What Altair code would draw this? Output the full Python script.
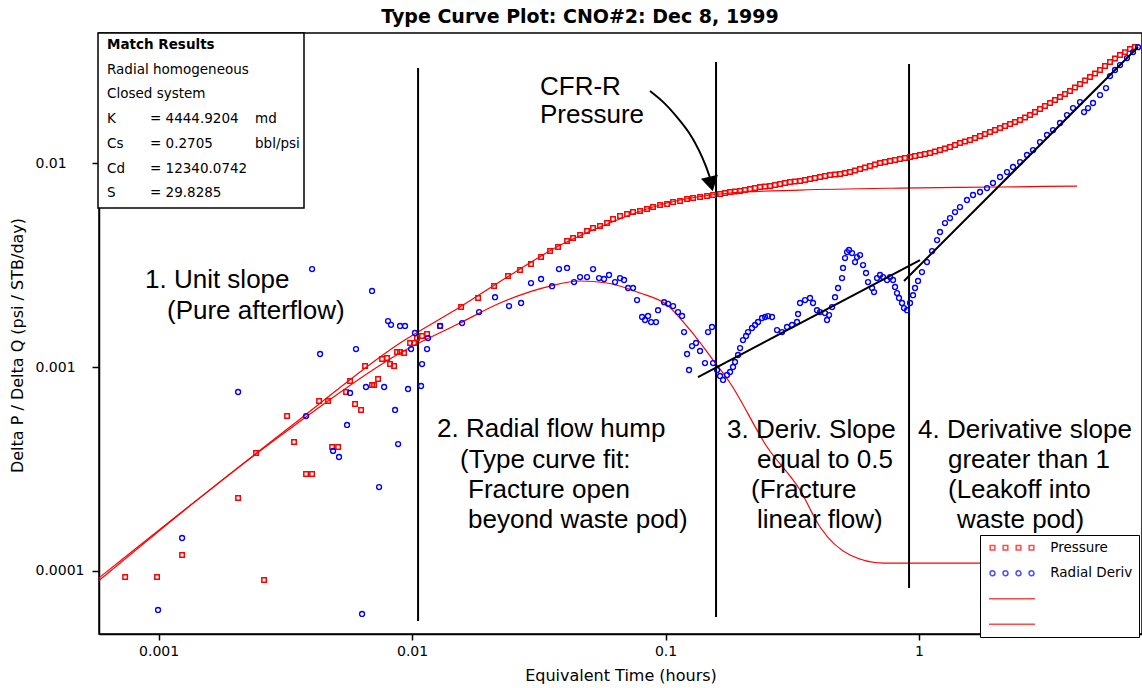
import altair as alt
import pandas as pd

# ---------------- data ----------------
# Measured pressure (red squares): (equivalent time h, delta P / delta Q)
pressure = [
    (7.38e-4, 9.35e-5), (9.86e-4, 9.35e-5), (1.238e-3, 1.198e-4), (2.059e-3, 2.279e-4),
    (2.424e-3, 3.79e-4), (2.607e-3, 9.03e-5), (3.213e-3, 5.75e-4), (3.423e-3, 4.29e-4),
    (3.817e-3, 2.99e-4), (4.032e-3, 2.99e-4), (4.297e-3, 6.81e-4), (4.663e-3, 6.81e-4),
    (4.836e-3, 4.05e-4), (5.108e-3, 4.05e-4), (5.490e-3, 7.54e-4), (5.693e-3, 8.54e-4),
    (5.958e-3, 6.59e-4), (6.292e-3, 6.16e-4), (6.524e-3, 1.011e-3), (6.953e-3, 8.16e-4),
    (7.081e-3, 8.16e-4), (7.343e-3, 8.73e-4), (7.614e-3, 1.094e-3), (7.967e-3, 1.107e-3),
    (8.188e-3, 1.034e-3), (8.492e-3, 1.011e-3), (8.728e-3, 1.184e-3), (8.967e-3, 1.184e-3),
    (9.299e-3, 1.171e-3), (9.820e-3, 1.311e-3), (1.018e-2, 1.311e-3), (1.046e-2, 1.387e-3),
    (1.095e-2, 1.419e-3), (1.146e-2, 1.451e-3), (1.290e-2, 1.589e-3), (1.561e-2, 1.968e-3),
    (1.822e-2, 2.18e-3), (2.106e-2, 2.494e-3), (2.391e-2, 2.793e-3), (2.667e-2, 2.989e-3),
    (2.946e-2, 3.198e-3), (3.228e-2, 3.46e-3), (3.503e-2, 3.703e-3), (3.766e-2, 3.875e-3),
    (4.088e-2, 4.147e-3), (4.317e-2, 4.289e-3), (4.600e-2, 4.437e-3), (4.902e-2, 4.642e-3),
    (5.176e-2, 4.801e-3), (5.515e-2, 4.912e-3), (5.877e-2, 5.08e-3), (6.207e-2, 5.313e-3),
    (6.614e-2, 5.497e-3), (7.048e-2, 5.623e-3), (7.442e-2, 5.751e-3), (7.931e-2, 5.817e-3),
    (8.452e-2, 5.95e-3), (8.927e-2, 6.086e-3), (9.513e-2, 6.225e-3), (0.1014, 6.295e-3),
    (0.1071, 6.439e-3), (0.1141, 6.512e-3), (0.1216, 6.661e-3), (0.1284, 6.738e-3),
    (0.1368, 6.813e-3), (0.1458, 6.891e-3), (0.1540, 6.969e-3), (0.1641, 7.047e-3),
    (0.1717, 7.127e-3), (0.1797, 7.208e-3), (0.1880, 7.25e-3), (0.1968, 7.29e-3),
    (0.2059, 7.37e-3), (0.2154, 7.456e-3), (0.2254, 7.54e-3), (0.2359, 7.627e-3),
    (0.2469, 7.67e-3), (0.2584, 7.713e-3), (0.2704, 7.80e-3), (0.2829, 7.89e-3),
    (0.2960, 7.98e-3), (0.3098, 8.07e-3), (0.3242, 8.12e-3), (0.3393, 8.162e-3),
    (0.3551, 8.25e-3), (0.3715, 8.348e-3), (0.3888, 8.44e-3), (0.4069, 8.538e-3),
    (0.4258, 8.64e-3), (0.4456, 8.733e-3), (0.4663, 8.78e-3), (0.4880, 8.832e-3),
    (0.5107, 8.93e-3), (0.5343, 9.034e-3), (0.5591, 9.19e-3), (0.5852, 9.345e-3),
    (0.6124, 9.50e-3), (0.6408, 9.667e-3), (0.6706, 9.83e-3), (0.7018, 1.0e-2),
    (0.7344, 1.011e-2), (0.7685, 1.023e-2), (0.8042, 1.035e-2), (0.841, 1.046e-2),
    (0.8801, 1.058e-2), (0.9215, 1.070e-2), (0.9643, 1.082e-2), (1.009, 1.095e-2),
    (1.056, 1.107e-2), (1.105, 1.120e-2), (1.156, 1.139e-2), (1.210, 1.158e-2),
    (1.266, 1.178e-2), (1.325, 1.198e-2), (1.387, 1.225e-2), (1.451, 1.253e-2),
    (1.518, 1.275e-2), (1.589, 1.297e-2), (1.663, 1.326e-2), (1.740, 1.356e-2),
    (1.821, 1.387e-2), (1.906, 1.419e-2), (1.995, 1.451e-2), (2.087, 1.484e-2),
    (2.184, 1.518e-2), (2.286, 1.553e-2), (2.392, 1.588e-2), (2.503, 1.625e-2),
    (2.619, 1.671e-2), (2.741, 1.719e-2), (2.868, 1.778e-2), (3.001, 1.839e-2),
    (3.140, 1.902e-2), (3.287, 1.969e-2), (3.440, 2.036e-2), (3.599, 2.106e-2),
    (3.766, 2.179e-2), (3.941, 2.254e-2), (4.124, 2.345e-2), (4.317, 2.439e-2),
    (4.518, 2.539e-2), (4.727, 2.640e-2), (4.947, 2.747e-2), (5.176, 2.858e-2),
    (5.416, 2.988e-2), (5.668, 3.128e-2), (5.931, 3.252e-2), (6.207, 3.384e-2),
    (6.495, 3.497e-2), (6.797, 3.621e-2), (7.113, 3.704e-2),
]

# Measured radial derivative (blue circles)
radial_deriv = [
    (9.95e-4, 6.44e-5), (1.238e-3, 1.451e-4), (2.059e-3, 7.54e-4), (3.818e-3, 5.75e-4),
    (4.032e-3, 3.02e-3), (4.336e-3, 1.158e-3), (4.88e-3, 3.88e-4), (5.15e-3, 3.62e-4),
    (5.54e-3, 5.20e-4), (5.693e-3, 7.46e-4), (6.01e-3, 1.225e-3), (6.349e-3, 6.16e-5),
    (6.58e-3, 7.98e-4), (6.953e-3, 2.36e-3), (7.41e-3, 2.58e-4), (7.76e-3, 7.98e-4),
    (8.04e-3, 1.68e-3), (8.26e-3, 1.61e-3), (8.57e-3, 6.16e-4), (8.81e-3, 4.19e-4),
    (8.967e-3, 1.59e-3), (9.38e-3, 1.59e-3), (9.64e-3, 7.80e-4), (9.91e-3, 1.225e-3),
    (1.027e-2, 1.468e-3), (1.085e-2, 8.07e-4), (1.095e-2, 1.034e-3), (1.146e-2, 1.225e-3),
    (1.156e-2, 1.387e-3), (1.290e-2, 1.59e-3), (1.575e-2, 1.643e-3), (1.838e-2, 1.86e-3),
    (2.125e-2, 2.20e-3), (2.413e-2, 1.99e-3), (2.692e-2, 2.06e-3), (2.946e-2, 2.58e-3),
    (3.228e-2, 2.70e-3), (3.567e-2, 2.49e-3), (3.80e-2, 3.02e-3), (4.088e-2, 3.06e-3),
    (4.356e-2, 2.61e-3), (4.60e-2, 2.76e-3), (4.902e-2, 2.76e-3), (5.176e-2, 3.02e-3),
    (5.466e-2, 2.73e-3), (5.72e-2, 2.70e-3), (5.985e-2, 2.825e-3), (6.32e-2, 2.61e-3),
    (6.614e-2, 2.73e-3), (6.86e-2, 2.67e-3), (7.115e-2, 2.44e-3), (7.442e-2, 2.44e-3),
    (7.72e-2, 2.13e-3), (8.08e-2, 1.76e-3), (8.30e-2, 1.70e-3), (8.53e-2, 1.78e-3),
    (8.77e-2, 1.66e-3), (9.17e-2, 1.66e-3), (9.34e-2, 1.90e-3), (9.87e-2, 2.08e-3),
    (0.1023, 2.04e-3), (0.1071, 1.99e-3), (0.1120, 1.86e-3), (0.1162, 1.78e-3),
    (0.1183, 1.484e-3), (0.1216, 1.158e-3), (0.1238, 9.67e-4), (0.1272, 1.267e-3),
    (0.1319, 1.311e-3), (0.1368, 1.198e-3), (0.1431, 1.046e-3), (0.1471, 1.484e-3),
    (0.1525, 1.571e-3), (0.1540, 1.046e-3), (0.1597, 9.67e-4), (0.1641, 9.04e-4),
    (0.1686, 8.64e-4), (0.1748, 9.14e-4), (0.1797, 9.45e-4), (0.1846, 1.0e-3),
    (0.1880, 1.058e-3), (0.1932, 1.145e-3), (0.1968, 1.239e-3), (0.2021, 1.356e-3),
    (0.2078, 1.419e-3), (0.2115, 1.484e-3), (0.2193, 1.553e-3), (0.2255, 1.607e-3),
    (0.2317, 1.662e-3), (0.2403, 1.739e-3), (0.2469, 1.759e-3), (0.2537, 1.778e-3),
    (0.2631, 1.759e-3), (0.2753, 1.518e-3), (0.2881, 1.484e-3), (0.3015, 1.571e-3),
    (0.3155, 1.607e-3), (0.3302, 1.662e-3), (0.3332, 1.819e-3), (0.3393, 2.06e-3),
    (0.3551, 2.13e-3), (0.3715, 2.18e-3), (0.3818, 2.06e-3), (0.3959, 1.90e-3),
    (0.4069, 1.86e-3), (0.4258, 1.839e-3), (0.4336, 1.70e-3), (0.4416, 1.798e-3),
    (0.4538, 1.968e-3), (0.4663, 2.20e-3), (0.4792, 2.44e-3), (0.4969, 2.73e-3),
    (0.5014, 3.06e-3), (0.5106, 3.42e-3), (0.5200, 3.66e-3), (0.5295, 3.75e-3),
    (0.5441, 3.62e-3), (0.5591, 3.27e-3), (0.5693, 3.46e-3), (0.5852, 3.54e-3),
    (0.6013, 3.162e-3), (0.6179, 2.89e-3), (0.6292, 2.61e-3), (0.6526, 2.44e-3),
    (0.6645, 2.33e-3), (0.6829, 2.73e-3), (0.7018, 2.825e-3), (0.7211, 2.76e-3),
    (0.7478, 2.67e-3), (0.7685, 2.76e-3), (0.7897, 2.67e-3), (0.8041, 2.47e-3),
    (0.8188, 2.305e-3), (0.8338, 2.18e-3), (0.8568, 2.06e-3), (0.8726, 1.946e-3),
    (0.8967, 1.90e-3), (0.9215, 2.06e-3), (0.9469, 2.25e-3), (0.9643, 2.44e-3),
    (0.9911, 2.64e-3), (1.027, 2.92e-3), (1.075, 3.27e-3), (1.126, 3.70e-3),
    (1.178, 4.19e-3), (1.210, 4.59e-3), (1.266, 5.08e-3), (1.325, 5.375e-3),
    (1.387, 5.75e-3), (1.451, 6.086e-3), (1.546, 6.59e-3), (1.633, 6.97e-3),
    (1.740, 7.21e-3), (1.854, 7.54e-3), (1.958, 7.98e-3), (2.087, 8.54e-3),
    (2.224, 9.03e-3), (2.349, 9.56e-3), (2.503, 1.011e-2), (2.667, 1.095e-2),
    (2.817, 1.158e-2), (3.001, 1.267e-2), (3.198, 1.372e-2), (3.378, 1.451e-2),
    (3.599, 1.571e-2), (3.835, 1.719e-2), (4.051, 1.86e-2), (4.317, 1.991e-2),
    (4.477, 1.778e-2), (4.642, 1.86e-2), (4.858, 1.969e-2), (5.176, 2.154e-2),
    (5.466, 2.331e-2), (5.668, 2.67e-2), (5.932, 2.858e-2), (6.207, 3.022e-2),
    (6.615, 3.27e-2), (6.986, 3.50e-2), (7.31, 3.70e-2),
]

# Type curves (red lines)
type_curve_pressure = [
    (0.000582, 9.25e-5), (0.003455, 5.315e-4), (0.008967, 1.311e-3), (0.01546, 1.968e-3),
    (0.02435, 2.82e-3), (0.03835, 3.95e-3), (0.05515, 4.857e-3), (0.1014, 6.37e-3),
    (0.1797, 7.13e-3), (0.3393, 7.37e-3), (0.841, 7.54e-3), (2.087, 7.63e-3), (4.201, 7.71e-3),
]
type_curve_deriv = [
    (0.000582, 8.98e-5), (0.003455, 5.20e-4), (0.008967, 1.171e-3), (0.01546, 1.643e-3),
    (0.02223, 2.060e-3), (0.03503, 2.494e-3), (0.04600, 2.640e-3), (0.05877, 2.581e-3),
    (0.07931, 2.305e-3), (0.1014, 2.013e-3), (0.1249, 1.519e-3), (0.1540, 1.082e-3),
    (0.1797, 8.35e-4), (0.2515, 4.054e-4), (0.3393, 2.494e-4), (0.4069, 1.643e-4),
    (0.5343, 1.198e-4), (0.7211, 1.094e-4), (1.740, 1.094e-4), (4.201, 1.094e-4),
]

# Flow-regime boundaries (vertical black lines): time, bottom, top
boundary_t = [0.01056, 0.1582, 0.9133]
boundary_lo = [5.69e-5, 5.95e-5, 8.25e-5]
boundary_hi = [0.02922, 0.03127, 0.03057]

# Fitted slope lines (black)
half_slope = [(0.1343, 8.93e-4), (1.009, 3.345e-3)]
steep_slope = [(0.8726, 2.64e-3), (7.31, 3.704e-2)]

# CFR-R pressure arrow (curve and head)
arrow_curve = [(0.08686, 0.02254), (0.09954, 0.01969), (0.1110, 0.01681), (0.1249, 0.01403),
               (0.1356, 0.01158), (0.1445, 0.009667), (0.1498, 0.008443)]
arrow_head = [(0.1512, 0.00789)]

series_names = ["Pressure", "Radial Deriv", "Type curve pressure", "Type curve derivative"]

# ---------------- chart ----------------
RED, BLUE = "#FF0000", "#0000FF"
OX, OY = 99, 33          # plot-area origin inside the 1142x688 page
W, H = 1043, 601


def df(pairs):
    return pd.DataFrame(pairs, columns=["t", "v"])


X = alt.X("t:Q", scale=alt.Scale(type="log", domain=[0.000582, 7.58], nice=False),
          axis=alt.Axis(values=[0.001, 0.01, 0.1, 1], format="~g",
                        title="Equivalent Time (hours)", tickSize=6, labelPadding=4,
                        titleY=46, titleBaseline="alphabetic"))
Y = alt.Y("v:Q", scale=alt.Scale(type="log", domain=[4.91e-5, 0.0434], nice=False),
          axis=alt.Axis(values=[0.0001, 0.001, 0.01], format="~g",
                        title="Delta P / Delta Q (psi / STB/day)", tickSize=7,
                        labelAlign="left", labelPadding=57, labelBaseline="middle",
                        titleX=-82, titleY=312, titleAngle=270, titleAlign="center",
                        titleBaseline="middle"))

one = pd.DataFrame({"k": [0]})

bounds = alt.Chart(pd.DataFrame({"t": boundary_t, "v": boundary_lo, "v2": boundary_hi})).mark_rule(
    color="black", strokeWidth=2).encode(x=X, y=Y, y2="v2:Q")

tc_p = alt.Chart(df(type_curve_pressure)).mark_line(
    color=RED, strokeWidth=1.2, interpolate="monotone").encode(x=X, y=Y)
tc_d = alt.Chart(df(type_curve_deriv)).mark_line(
    color=RED, strokeWidth=1.2, interpolate="monotone").encode(x=X, y=Y)

pts_p = alt.Chart(df(pressure)).mark_point(
    shape="square", filled=False, color=RED, size=20, strokeWidth=1.5, opacity=1).encode(x=X, y=Y)
pts_d = alt.Chart(df(radial_deriv)).mark_point(
    shape="circle", filled=False, color=BLUE, size=24, strokeWidth=1.4, opacity=1).encode(x=X, y=Y)

fit1 = alt.Chart(df(half_slope)).mark_line(color="black", strokeWidth=2).encode(x=X, y=Y)
fit2 = alt.Chart(df(steep_slope)).mark_line(color="black", strokeWidth=2).encode(x=X, y=Y)

arr = alt.Chart(df(arrow_curve)).mark_line(color="black", strokeWidth=2, interpolate="basis").encode(x=X, y=Y)
arr_h = alt.Chart(df(arrow_head)).mark_point(
    shape="triangle-down", filled=True, color="black", size=300, angle=347, opacity=1).encode(x=X, y=Y)


def txt(s, x, y, size=26, font="Liberation Sans", weight="normal", align="left", baseline="alphabetic"):
    return alt.Chart(one).mark_text(
        text=s, font=font, fontSize=size, fontWeight=weight, align=align,
        baseline=baseline, color="black").encode(x=alt.value(x - OX), y=alt.value(y - OY))


notes = [
    ("1. Unit slope", 145, 288), ("(Pure afterflow)", 167, 319),
    ("2. Radial flow hump", 437, 437), ("(Type curve fit:", 460, 468),
    ("Fracture open", 468, 498), ("beyond waste pod)", 468, 528),
    ("3. Deriv. Slope", 727, 438), ("equal to 0.5", 757, 468),
    ("(Fracture", 751, 498), ("linear flow)", 757, 528),
    ("4. Derivative slope", 918, 438), ("greater than 1", 948, 468),
    ("(Leakoff into", 948, 498), ("waste pod)", 957, 528),
    ("CFR-R", 540, 95), ("Pressure", 540, 123),
]
note_layers = [txt(s, x, y) for s, x, y in notes]

box = alt.Chart(one).mark_rect(fill="white", stroke="black", strokeWidth=1.5).encode(
    x=alt.value(98 - OX), x2=alt.value(304 - OX), y=alt.value(33 - OY), y2=alt.value(208 - OY))
box_lines = [
    ("Match Results", 107, 49, "bold"), ("Radial homogeneous", 107, 74, "normal"),
    ("Closed system", 107, 98, "normal"),
    ("K", 107, 123, "normal"), ("= 4444.9204", 150, 123, "normal"), ("md", 255, 123, "normal"),
    ("Cs", 107, 148, "normal"), ("= 0.2705", 150, 148, "normal"), ("bbl/psi", 255, 148, "normal"),
    ("Cd", 107, 173, "normal"), ("= 12340.0742", 150, 173, "normal"),
    ("S", 107, 197, "normal"), ("= 29.8285", 150, 197, "normal"),
]
box_layers = [txt(s, x, y, size=13.5 if w == "bold" else 13.5, font="DejaVu Sans", weight=w)
              for s, x, y, w in box_lines]

title = txt("Type Curve Plot: CNO#2: Dec 8, 1999", 580, 23, size=19, font="DejaVu Sans",
            weight="bold", align="center")

# legend (symbols: four small markers / a line sample)
sq = "".join(f"M{c - 0.42:.3f},-0.42h0.84v0.84h-0.84z" for c in (-3.545, -1.182, 1.182, 3.545))
ci = "".join(f"M{c - 0.45:.3f},0a0.45,0.45 0 1,0 0.9,0a0.45,0.45 0 1,0 -0.9,0"
             for c in (-3.545, -1.182, 1.182, 3.545))
ln = "M-4.18,0L4.18,0"
lab_expr = "datum.value == 'Pressure' || datum.value == 'Radial Deriv' ? datum.label : ''"
leg = alt.Legend(title=None, labelExpr=lab_expr)
legend_layer = alt.Chart(pd.DataFrame({"series": series_names})).mark_point(
    filled=False, strokeWidth=1.5).encode(
    color=alt.Color("series:N", scale=alt.Scale(domain=series_names, range=[RED, BLUE, RED, RED]),
                    legend=leg),
    shape=alt.Shape("series:N", scale=alt.Scale(domain=series_names, range=[sq, ci, ln, ln]),
                    legend=leg),
).transform_filter("false")

layers = [tc_p, tc_d, bounds, pts_p, pts_d, fit1, fit2, arr, arr_h, box] + box_layers + \
         note_layers + [title, legend_layer]

chart = alt.layer(*layers).properties(
    width=W, height=H,
    padding={"left": OX, "top": OY, "right": 0, "bottom": 688 - OY - H},
    autosize=alt.AutoSizeParams(type="none"),
    background="white",
).configure_view(
    stroke="black", strokeWidth=1.5
).configure_axis(
    grid=False, domainColor="black", domainWidth=1.5, tickColor="black", tickWidth=1.5,
    labelFont="DejaVu Sans", labelFontSize=14, labelColor="black",
    titleFont="DejaVu Sans", titleFontSize=16, titleFontWeight="normal", titleColor="black",
).configure_legend(
    orient="none", legendX=881, legendY=502, padding=6, rowPadding=10.5,
    symbolSize=121, symbolStrokeWidth=1.5, symbolOffset=19.25, labelOffset=31.5,
    labelFont="DejaVu Sans", labelFontSize=13.5, labelColor="black",
    strokeColor="black", fillColor="white",
)

chart.save("out.html", embed_options={"renderer": "svg", "actions": False})
